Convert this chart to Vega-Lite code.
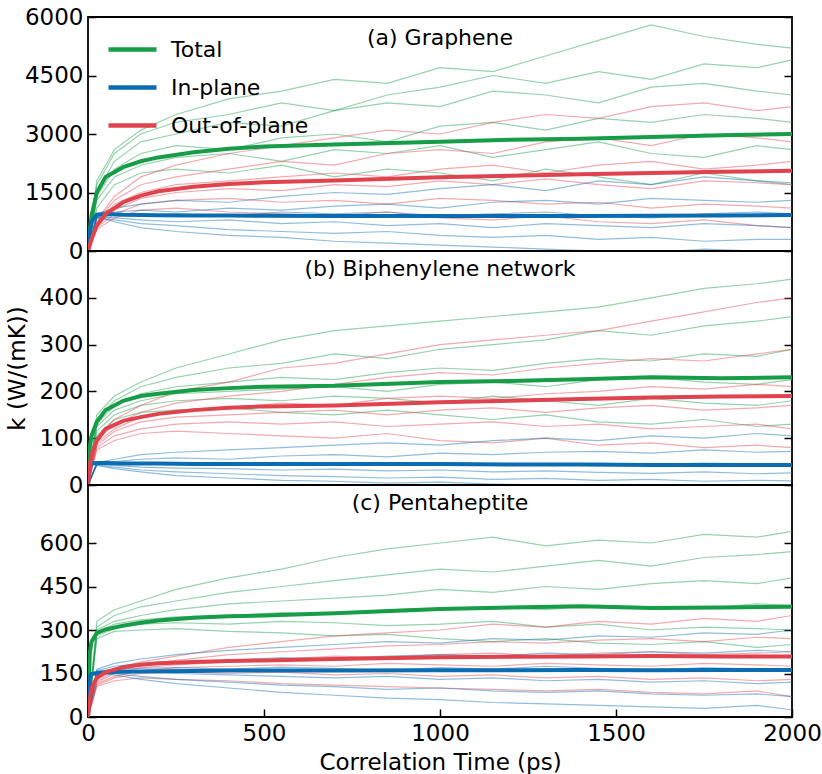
{
"$schema": "https://vega.github.io/schema/vega-lite/v6.json",
"background": "white",
"padding": {"left": 5, "top": 5, "right": 20, "bottom": 5},
"spacing": 0,
"bounds": "flush",
"resolve": {"scale": {"color": "independent"}},
"config": {
 "font": "DejaVu Sans",
 "view": {"stroke": "black", "strokeWidth": 1.8},
 "axis": {"grid": false, "domain": false, "ticks": true, "tickSize": 8, "offset": -8, "tickWidth": 1.5, "tickColor": "black", "labelFontSize": 23, "labelColor": "black", "labelFont": "DejaVu Sans", "titleFontSize": 23, "titleFont": "DejaVu Sans", "titleFontWeight": "normal", "titleColor": "black", "labelPadding": 5, "labelFlush": false, "labelOverlap": false, "labelBound": false, "format": "d"},
 "title": {"fontSize": 22, "fontWeight": "normal", "font": "DejaVu Sans", "color": "black"}
},
"datasets": {
"ta": [
{"s":"T","i":1,"t":0,"k":0},{"s":"T","i":1,"t":25,"k":1800},{"s":"T","i":1,"t":75,"k":2600},{"s":"T","i":1,"t":150,"k":3100},{"s":"T","i":1,"t":250,"k":3500},{"s":"T","i":1,"t":400,"k":3900},{"s":"T","i":1,"t":550,"k":4100},{"s":"T","i":1,"t":700,"k":4400},{"s":"T","i":1,"t":850,"k":4300},{"s":"T","i":1,"t":1000,"k":4700},{"s":"T","i":1,"t":1150,"k":4600},{"s":"T","i":1,"t":1300,"k":5000},{"s":"T","i":1,"t":1450,"k":5400},{"s":"T","i":1,"t":1600,"k":5800},{"s":"T","i":1,"t":1750,"k":5500},{"s":"T","i":1,"t":1900,"k":5300},{"s":"T","i":1,"t":2000,"k":5200},
{"s":"T","i":2,"t":0,"k":0},{"s":"T","i":2,"t":25,"k":1500},{"s":"T","i":2,"t":75,"k":2300},{"s":"T","i":2,"t":150,"k":2800},{"s":"T","i":2,"t":250,"k":3000},{"s":"T","i":2,"t":400,"k":3300},{"s":"T","i":2,"t":550,"k":3200},{"s":"T","i":2,"t":700,"k":3600},{"s":"T","i":2,"t":850,"k":3800},{"s":"T","i":2,"t":1000,"k":3700},{"s":"T","i":2,"t":1150,"k":4100},{"s":"T","i":2,"t":1300,"k":4000},{"s":"T","i":2,"t":1450,"k":3800},{"s":"T","i":2,"t":1600,"k":4200},{"s":"T","i":2,"t":1750,"k":4300},{"s":"T","i":2,"t":1900,"k":4100},{"s":"T","i":2,"t":2000,"k":4000},
{"s":"T","i":3,"t":0,"k":0},{"s":"T","i":3,"t":25,"k":1400},{"s":"T","i":3,"t":75,"k":2100},{"s":"T","i":3,"t":150,"k":2500},{"s":"T","i":3,"t":250,"k":2700},{"s":"T","i":3,"t":400,"k":2600},{"s":"T","i":3,"t":550,"k":2900},{"s":"T","i":3,"t":700,"k":3000},{"s":"T","i":3,"t":850,"k":2800},{"s":"T","i":3,"t":1000,"k":3200},{"s":"T","i":3,"t":1150,"k":3300},{"s":"T","i":3,"t":1300,"k":3100},{"s":"T","i":3,"t":1450,"k":3400},{"s":"T","i":3,"t":1600,"k":3300},{"s":"T","i":3,"t":1750,"k":3500},{"s":"T","i":3,"t":1900,"k":3400},{"s":"T","i":3,"t":2000,"k":3300},
{"s":"T","i":4,"t":0,"k":0},{"s":"T","i":4,"t":25,"k":1300},{"s":"T","i":4,"t":75,"k":1900},{"s":"T","i":4,"t":150,"k":2200},{"s":"T","i":4,"t":250,"k":2400},{"s":"T","i":4,"t":400,"k":2500},{"s":"T","i":4,"t":550,"k":2300},{"s":"T","i":4,"t":700,"k":2600},{"s":"T","i":4,"t":850,"k":2500},{"s":"T","i":4,"t":1000,"k":2700},{"s":"T","i":4,"t":1150,"k":2400},{"s":"T","i":4,"t":1300,"k":2600},{"s":"T","i":4,"t":1450,"k":2800},{"s":"T","i":4,"t":1600,"k":2500},{"s":"T","i":4,"t":1750,"k":2400},{"s":"T","i":4,"t":1900,"k":2700},{"s":"T","i":4,"t":2000,"k":2600},
{"s":"T","i":5,"t":0,"k":0},{"s":"T","i":5,"t":25,"k":1100},{"s":"T","i":5,"t":75,"k":1700},{"s":"T","i":5,"t":150,"k":2000},{"s":"T","i":5,"t":250,"k":2100},{"s":"T","i":5,"t":400,"k":2000},{"s":"T","i":5,"t":550,"k":2200},{"s":"T","i":5,"t":700,"k":1900},{"s":"T","i":5,"t":850,"k":2100},{"s":"T","i":5,"t":1000,"k":2000},{"s":"T","i":5,"t":1150,"k":1800},{"s":"T","i":5,"t":1300,"k":2100},{"s":"T","i":5,"t":1450,"k":1900},{"s":"T","i":5,"t":1600,"k":1700},{"s":"T","i":5,"t":1750,"k":2000},{"s":"T","i":5,"t":1900,"k":1800},{"s":"T","i":5,"t":2000,"k":1700},
{"s":"T","i":6,"t":0,"k":0},{"s":"T","i":6,"t":25,"k":1700},{"s":"T","i":6,"t":75,"k":2500},{"s":"T","i":6,"t":150,"k":3000},{"s":"T","i":6,"t":250,"k":3300},{"s":"T","i":6,"t":400,"k":3500},{"s":"T","i":6,"t":550,"k":3800},{"s":"T","i":6,"t":700,"k":3600},{"s":"T","i":6,"t":850,"k":4000},{"s":"T","i":6,"t":1000,"k":4200},{"s":"T","i":6,"t":1150,"k":4500},{"s":"T","i":6,"t":1300,"k":4300},{"s":"T","i":6,"t":1450,"k":4600},{"s":"T","i":6,"t":1600,"k":4400},{"s":"T","i":6,"t":1750,"k":4800},{"s":"T","i":6,"t":1900,"k":4700},{"s":"T","i":6,"t":2000,"k":4900},
{"s":"O","i":1,"t":0,"k":0},{"s":"O","i":1,"t":25,"k":800},{"s":"O","i":1,"t":75,"k":1400},{"s":"O","i":1,"t":150,"k":1900},{"s":"O","i":1,"t":250,"k":2200},{"s":"O","i":1,"t":400,"k":2500},{"s":"O","i":1,"t":550,"k":2700},{"s":"O","i":1,"t":700,"k":2900},{"s":"O","i":1,"t":850,"k":3100},{"s":"O","i":1,"t":1000,"k":3000},{"s":"O","i":1,"t":1150,"k":3300},{"s":"O","i":1,"t":1300,"k":3500},{"s":"O","i":1,"t":1450,"k":3400},{"s":"O","i":1,"t":1600,"k":3700},{"s":"O","i":1,"t":1750,"k":3800},{"s":"O","i":1,"t":1900,"k":3600},{"s":"O","i":1,"t":2000,"k":3700},
{"s":"O","i":2,"t":0,"k":0},{"s":"O","i":2,"t":25,"k":750},{"s":"O","i":2,"t":75,"k":1300},{"s":"O","i":2,"t":150,"k":1700},{"s":"O","i":2,"t":250,"k":1900},{"s":"O","i":2,"t":400,"k":2100},{"s":"O","i":2,"t":550,"k":2300},{"s":"O","i":2,"t":700,"k":2200},{"s":"O","i":2,"t":850,"k":2500},{"s":"O","i":2,"t":1000,"k":2600},{"s":"O","i":2,"t":1150,"k":2500},{"s":"O","i":2,"t":1300,"k":2800},{"s":"O","i":2,"t":1450,"k":2900},{"s":"O","i":2,"t":1600,"k":2700},{"s":"O","i":2,"t":1750,"k":3000},{"s":"O","i":2,"t":1900,"k":2900},{"s":"O","i":2,"t":2000,"k":2800},
{"s":"O","i":3,"t":0,"k":0},{"s":"O","i":3,"t":25,"k":700},{"s":"O","i":3,"t":75,"k":1200},{"s":"O","i":3,"t":150,"k":1500},{"s":"O","i":3,"t":250,"k":1700},{"s":"O","i":3,"t":400,"k":1800},{"s":"O","i":3,"t":550,"k":1900},{"s":"O","i":3,"t":700,"k":2000},{"s":"O","i":3,"t":850,"k":1900},{"s":"O","i":3,"t":1000,"k":2100},{"s":"O","i":3,"t":1150,"k":2200},{"s":"O","i":3,"t":1300,"k":2000},{"s":"O","i":3,"t":1450,"k":2200},{"s":"O","i":3,"t":1600,"k":2300},{"s":"O","i":3,"t":1750,"k":2100},{"s":"O","i":3,"t":1900,"k":2200},{"s":"O","i":3,"t":2000,"k":2300},
{"s":"O","i":4,"t":0,"k":0},{"s":"O","i":4,"t":25,"k":650},{"s":"O","i":4,"t":75,"k":1050},{"s":"O","i":4,"t":150,"k":1350},{"s":"O","i":4,"t":250,"k":1500},{"s":"O","i":4,"t":400,"k":1600},{"s":"O","i":4,"t":550,"k":1550},{"s":"O","i":4,"t":700,"k":1700},{"s":"O","i":4,"t":850,"k":1650},{"s":"O","i":4,"t":1000,"k":1800},{"s":"O","i":4,"t":1150,"k":1700},{"s":"O","i":4,"t":1300,"k":1850},{"s":"O","i":4,"t":1450,"k":1700},{"s":"O","i":4,"t":1600,"k":1600},{"s":"O","i":4,"t":1750,"k":1800},{"s":"O","i":4,"t":1900,"k":1750},{"s":"O","i":4,"t":2000,"k":1700},
{"s":"O","i":5,"t":0,"k":0},{"s":"O","i":5,"t":25,"k":600},{"s":"O","i":5,"t":75,"k":950},{"s":"O","i":5,"t":150,"k":1200},{"s":"O","i":5,"t":250,"k":1300},{"s":"O","i":5,"t":400,"k":1350},{"s":"O","i":5,"t":550,"k":1250},{"s":"O","i":5,"t":700,"k":1300},{"s":"O","i":5,"t":850,"k":1200},{"s":"O","i":5,"t":1000,"k":1350},{"s":"O","i":5,"t":1150,"k":1300},{"s":"O","i":5,"t":1300,"k":1200},{"s":"O","i":5,"t":1450,"k":1250},{"s":"O","i":5,"t":1600,"k":1100},{"s":"O","i":5,"t":1750,"k":1200},{"s":"O","i":5,"t":1900,"k":1150},{"s":"O","i":5,"t":2000,"k":1100},
{"s":"O","i":6,"t":0,"k":0},{"s":"O","i":6,"t":25,"k":550},{"s":"O","i":6,"t":75,"k":850},{"s":"O","i":6,"t":150,"k":1050},{"s":"O","i":6,"t":250,"k":1100},{"s":"O","i":6,"t":400,"k":1000},{"s":"O","i":6,"t":550,"k":950},{"s":"O","i":6,"t":700,"k":900},{"s":"O","i":6,"t":850,"k":1000},{"s":"O","i":6,"t":1000,"k":850},{"s":"O","i":6,"t":1150,"k":800},{"s":"O","i":6,"t":1300,"k":900},{"s":"O","i":6,"t":1450,"k":750},{"s":"O","i":6,"t":1600,"k":700},{"s":"O","i":6,"t":1750,"k":800},{"s":"O","i":6,"t":1900,"k":650},{"s":"O","i":6,"t":2000,"k":600},
{"s":"I","i":1,"t":0,"k":0},{"s":"I","i":1,"t":25,"k":950},{"s":"I","i":1,"t":75,"k":1100},{"s":"I","i":1,"t":150,"k":1200},{"s":"I","i":1,"t":250,"k":1300},{"s":"I","i":1,"t":400,"k":1250},{"s":"I","i":1,"t":550,"k":1400},{"s":"I","i":1,"t":700,"k":1500},{"s":"I","i":1,"t":850,"k":1450},{"s":"I","i":1,"t":1000,"k":1600},{"s":"I","i":1,"t":1150,"k":1700},{"s":"I","i":1,"t":1300,"k":1550},{"s":"I","i":1,"t":1450,"k":1800},{"s":"I","i":1,"t":1600,"k":1700},{"s":"I","i":1,"t":1750,"k":1900},{"s":"I","i":1,"t":1900,"k":1800},{"s":"I","i":1,"t":2000,"k":1750},
{"s":"I","i":2,"t":0,"k":0},{"s":"I","i":2,"t":25,"k":900},{"s":"I","i":2,"t":75,"k":1000},{"s":"I","i":2,"t":150,"k":1050},{"s":"I","i":2,"t":250,"k":1000},{"s":"I","i":2,"t":400,"k":1100},{"s":"I","i":2,"t":550,"k":1050},{"s":"I","i":2,"t":700,"k":1150},{"s":"I","i":2,"t":850,"k":1200},{"s":"I","i":2,"t":1000,"k":1100},{"s":"I","i":2,"t":1150,"k":1250},{"s":"I","i":2,"t":1300,"k":1300},{"s":"I","i":2,"t":1450,"k":1200},{"s":"I","i":2,"t":1600,"k":1350},{"s":"I","i":2,"t":1750,"k":1300},{"s":"I","i":2,"t":1900,"k":1250},{"s":"I","i":2,"t":2000,"k":1300},
{"s":"I","i":3,"t":0,"k":0},{"s":"I","i":3,"t":25,"k":900},{"s":"I","i":3,"t":75,"k":950},{"s":"I","i":3,"t":150,"k":900},{"s":"I","i":3,"t":250,"k":950},{"s":"I","i":3,"t":400,"k":900},{"s":"I","i":3,"t":550,"k":1000},{"s":"I","i":3,"t":700,"k":950},{"s":"I","i":3,"t":850,"k":1000},{"s":"I","i":3,"t":1000,"k":900},{"s":"I","i":3,"t":1150,"k":950},{"s":"I","i":3,"t":1300,"k":1000},{"s":"I","i":3,"t":1450,"k":900},{"s":"I","i":3,"t":1600,"k":850},{"s":"I","i":3,"t":1750,"k":950},{"s":"I","i":3,"t":1900,"k":1000},{"s":"I","i":3,"t":2000,"k":950},
{"s":"I","i":4,"t":0,"k":0},{"s":"I","i":4,"t":25,"k":880},{"s":"I","i":4,"t":75,"k":850},{"s":"I","i":4,"t":150,"k":800},{"s":"I","i":4,"t":250,"k":750},{"s":"I","i":4,"t":400,"k":800},{"s":"I","i":4,"t":550,"k":700},{"s":"I","i":4,"t":700,"k":750},{"s":"I","i":4,"t":850,"k":650},{"s":"I","i":4,"t":1000,"k":700},{"s":"I","i":4,"t":1150,"k":600},{"s":"I","i":4,"t":1300,"k":700},{"s":"I","i":4,"t":1450,"k":650},{"s":"I","i":4,"t":1600,"k":600},{"s":"I","i":4,"t":1750,"k":700},{"s":"I","i":4,"t":1900,"k":650},{"s":"I","i":4,"t":2000,"k":600},
{"s":"I","i":5,"t":0,"k":0},{"s":"I","i":5,"t":25,"k":850},{"s":"I","i":5,"t":75,"k":800},{"s":"I","i":5,"t":150,"k":700},{"s":"I","i":5,"t":250,"k":650},{"s":"I","i":5,"t":400,"k":550},{"s":"I","i":5,"t":550,"k":500},{"s":"I","i":5,"t":700,"k":450},{"s":"I","i":5,"t":850,"k":500},{"s":"I","i":5,"t":1000,"k":400},{"s":"I","i":5,"t":1150,"k":350},{"s":"I","i":5,"t":1300,"k":400},{"s":"I","i":5,"t":1450,"k":300},{"s":"I","i":5,"t":1600,"k":350},{"s":"I","i":5,"t":1750,"k":250},{"s":"I","i":5,"t":1900,"k":300},{"s":"I","i":5,"t":2000,"k":300},
{"s":"I","i":6,"t":0,"k":0},{"s":"I","i":6,"t":25,"k":870},{"s":"I","i":6,"t":75,"k":750},{"s":"I","i":6,"t":150,"k":600},{"s":"I","i":6,"t":250,"k":500},{"s":"I","i":6,"t":400,"k":400},{"s":"I","i":6,"t":550,"k":350},{"s":"I","i":6,"t":700,"k":250},{"s":"I","i":6,"t":850,"k":200},{"s":"I","i":6,"t":1000,"k":150},{"s":"I","i":6,"t":1150,"k":100},{"s":"I","i":6,"t":1300,"k":50},{"s":"I","i":6,"t":1450,"k":0},{"s":"I","i":6,"t":1600,"k":-50},{"s":"I","i":6,"t":1750,"k":50},{"s":"I","i":6,"t":1900,"k":0},{"s":"I","i":6,"t":2000,"k":-100}
],
"tb": [
{"s":"T","i":1,"t":0,"k":0},{"s":"T","i":1,"t":25,"k":150},{"s":"T","i":1,"t":75,"k":190},{"s":"T","i":1,"t":150,"k":220},{"s":"T","i":1,"t":250,"k":250},{"s":"T","i":1,"t":400,"k":280},{"s":"T","i":1,"t":550,"k":310},{"s":"T","i":1,"t":700,"k":330},{"s":"T","i":1,"t":850,"k":340},{"s":"T","i":1,"t":1000,"k":350},{"s":"T","i":1,"t":1150,"k":360},{"s":"T","i":1,"t":1300,"k":370},{"s":"T","i":1,"t":1450,"k":380},{"s":"T","i":1,"t":1600,"k":400},{"s":"T","i":1,"t":1750,"k":420},{"s":"T","i":1,"t":1900,"k":430},{"s":"T","i":1,"t":2000,"k":440},
{"s":"T","i":2,"t":0,"k":0},{"s":"T","i":2,"t":25,"k":140},{"s":"T","i":2,"t":75,"k":180},{"s":"T","i":2,"t":150,"k":210},{"s":"T","i":2,"t":250,"k":230},{"s":"T","i":2,"t":400,"k":250},{"s":"T","i":2,"t":550,"k":260},{"s":"T","i":2,"t":700,"k":280},{"s":"T","i":2,"t":850,"k":270},{"s":"T","i":2,"t":1000,"k":290},{"s":"T","i":2,"t":1150,"k":300},{"s":"T","i":2,"t":1300,"k":310},{"s":"T","i":2,"t":1450,"k":330},{"s":"T","i":2,"t":1600,"k":320},{"s":"T","i":2,"t":1750,"k":340},{"s":"T","i":2,"t":1900,"k":350},{"s":"T","i":2,"t":2000,"k":360},
{"s":"T","i":3,"t":0,"k":0},{"s":"T","i":3,"t":25,"k":130},{"s":"T","i":3,"t":75,"k":170},{"s":"T","i":3,"t":150,"k":195},{"s":"T","i":3,"t":250,"k":210},{"s":"T","i":3,"t":400,"k":220},{"s":"T","i":3,"t":550,"k":230},{"s":"T","i":3,"t":700,"k":225},{"s":"T","i":3,"t":850,"k":240},{"s":"T","i":3,"t":1000,"k":250},{"s":"T","i":3,"t":1150,"k":245},{"s":"T","i":3,"t":1300,"k":260},{"s":"T","i":3,"t":1450,"k":270},{"s":"T","i":3,"t":1600,"k":265},{"s":"T","i":3,"t":1750,"k":280},{"s":"T","i":3,"t":1900,"k":275},{"s":"T","i":3,"t":2000,"k":290},
{"s":"T","i":4,"t":0,"k":0},{"s":"T","i":4,"t":25,"k":125},{"s":"T","i":4,"t":75,"k":160},{"s":"T","i":4,"t":150,"k":180},{"s":"T","i":4,"t":250,"k":195},{"s":"T","i":4,"t":400,"k":200},{"s":"T","i":4,"t":550,"k":205},{"s":"T","i":4,"t":700,"k":210},{"s":"T","i":4,"t":850,"k":200},{"s":"T","i":4,"t":1000,"k":215},{"s":"T","i":4,"t":1150,"k":220},{"s":"T","i":4,"t":1300,"k":210},{"s":"T","i":4,"t":1450,"k":225},{"s":"T","i":4,"t":1600,"k":230},{"s":"T","i":4,"t":1750,"k":220},{"s":"T","i":4,"t":1900,"k":215},{"s":"T","i":4,"t":2000,"k":225},
{"s":"T","i":5,"t":0,"k":0},{"s":"T","i":5,"t":25,"k":115},{"s":"T","i":5,"t":75,"k":150},{"s":"T","i":5,"t":150,"k":170},{"s":"T","i":5,"t":250,"k":180},{"s":"T","i":5,"t":400,"k":185},{"s":"T","i":5,"t":550,"k":180},{"s":"T","i":5,"t":700,"k":190},{"s":"T","i":5,"t":850,"k":185},{"s":"T","i":5,"t":1000,"k":175},{"s":"T","i":5,"t":1150,"k":190},{"s":"T","i":5,"t":1300,"k":180},{"s":"T","i":5,"t":1450,"k":170},{"s":"T","i":5,"t":1600,"k":185},{"s":"T","i":5,"t":1750,"k":175},{"s":"T","i":5,"t":1900,"k":170},{"s":"T","i":5,"t":2000,"k":180},
{"s":"T","i":6,"t":0,"k":0},{"s":"T","i":6,"t":25,"k":105},{"s":"T","i":6,"t":75,"k":140},{"s":"T","i":6,"t":150,"k":155},{"s":"T","i":6,"t":250,"k":160},{"s":"T","i":6,"t":400,"k":165},{"s":"T","i":6,"t":550,"k":155},{"s":"T","i":6,"t":700,"k":150},{"s":"T","i":6,"t":850,"k":160},{"s":"T","i":6,"t":1000,"k":150},{"s":"T","i":6,"t":1150,"k":140},{"s":"T","i":6,"t":1300,"k":150},{"s":"T","i":6,"t":1450,"k":135},{"s":"T","i":6,"t":1600,"k":130},{"s":"T","i":6,"t":1750,"k":140},{"s":"T","i":6,"t":1900,"k":125},{"s":"T","i":6,"t":2000,"k":130},
{"s":"O","i":1,"t":0,"k":0},{"s":"O","i":1,"t":25,"k":100},{"s":"O","i":1,"t":75,"k":140},{"s":"O","i":1,"t":150,"k":170},{"s":"O","i":1,"t":250,"k":200},{"s":"O","i":1,"t":400,"k":220},{"s":"O","i":1,"t":550,"k":250},{"s":"O","i":1,"t":700,"k":260},{"s":"O","i":1,"t":850,"k":280},{"s":"O","i":1,"t":1000,"k":300},{"s":"O","i":1,"t":1150,"k":310},{"s":"O","i":1,"t":1300,"k":320},{"s":"O","i":1,"t":1450,"k":330},{"s":"O","i":1,"t":1600,"k":350},{"s":"O","i":1,"t":1750,"k":370},{"s":"O","i":1,"t":1900,"k":390},{"s":"O","i":1,"t":2000,"k":400},
{"s":"O","i":2,"t":0,"k":0},{"s":"O","i":2,"t":25,"k":95},{"s":"O","i":2,"t":75,"k":130},{"s":"O","i":2,"t":150,"k":155},{"s":"O","i":2,"t":250,"k":175},{"s":"O","i":2,"t":400,"k":190},{"s":"O","i":2,"t":550,"k":200},{"s":"O","i":2,"t":700,"k":215},{"s":"O","i":2,"t":850,"k":230},{"s":"O","i":2,"t":1000,"k":240},{"s":"O","i":2,"t":1150,"k":235},{"s":"O","i":2,"t":1300,"k":250},{"s":"O","i":2,"t":1450,"k":260},{"s":"O","i":2,"t":1600,"k":270},{"s":"O","i":2,"t":1750,"k":265},{"s":"O","i":2,"t":1900,"k":280},{"s":"O","i":2,"t":2000,"k":290},
{"s":"O","i":3,"t":0,"k":0},{"s":"O","i":3,"t":25,"k":90},{"s":"O","i":3,"t":75,"k":120},{"s":"O","i":3,"t":150,"k":145},{"s":"O","i":3,"t":250,"k":160},{"s":"O","i":3,"t":400,"k":165},{"s":"O","i":3,"t":550,"k":175},{"s":"O","i":3,"t":700,"k":170},{"s":"O","i":3,"t":850,"k":185},{"s":"O","i":3,"t":1000,"k":190},{"s":"O","i":3,"t":1150,"k":185},{"s":"O","i":3,"t":1300,"k":195},{"s":"O","i":3,"t":1450,"k":200},{"s":"O","i":3,"t":1600,"k":210},{"s":"O","i":3,"t":1750,"k":205},{"s":"O","i":3,"t":1900,"k":215},{"s":"O","i":3,"t":2000,"k":210},
{"s":"O","i":4,"t":0,"k":0},{"s":"O","i":4,"t":25,"k":85},{"s":"O","i":4,"t":75,"k":115},{"s":"O","i":4,"t":150,"k":135},{"s":"O","i":4,"t":250,"k":145},{"s":"O","i":4,"t":400,"k":150},{"s":"O","i":4,"t":550,"k":155},{"s":"O","i":4,"t":700,"k":160},{"s":"O","i":4,"t":850,"k":150},{"s":"O","i":4,"t":1000,"k":160},{"s":"O","i":4,"t":1150,"k":165},{"s":"O","i":4,"t":1300,"k":155},{"s":"O","i":4,"t":1450,"k":165},{"s":"O","i":4,"t":1600,"k":170},{"s":"O","i":4,"t":1750,"k":160},{"s":"O","i":4,"t":1900,"k":165},{"s":"O","i":4,"t":2000,"k":170},
{"s":"O","i":5,"t":0,"k":0},{"s":"O","i":5,"t":25,"k":80},{"s":"O","i":5,"t":75,"k":105},{"s":"O","i":5,"t":150,"k":120},{"s":"O","i":5,"t":250,"k":130},{"s":"O","i":5,"t":400,"k":135},{"s":"O","i":5,"t":550,"k":130},{"s":"O","i":5,"t":700,"k":135},{"s":"O","i":5,"t":850,"k":125},{"s":"O","i":5,"t":1000,"k":130},{"s":"O","i":5,"t":1150,"k":135},{"s":"O","i":5,"t":1300,"k":125},{"s":"O","i":5,"t":1450,"k":130},{"s":"O","i":5,"t":1600,"k":120},{"s":"O","i":5,"t":1750,"k":125},{"s":"O","i":5,"t":1900,"k":130},{"s":"O","i":5,"t":2000,"k":120},
{"s":"O","i":6,"t":0,"k":0},{"s":"O","i":6,"t":25,"k":75},{"s":"O","i":6,"t":75,"k":95},{"s":"O","i":6,"t":150,"k":110},{"s":"O","i":6,"t":250,"k":115},{"s":"O","i":6,"t":400,"k":110},{"s":"O","i":6,"t":550,"k":105},{"s":"O","i":6,"t":700,"k":100},{"s":"O","i":6,"t":850,"k":110},{"s":"O","i":6,"t":1000,"k":95},{"s":"O","i":6,"t":1150,"k":90},{"s":"O","i":6,"t":1300,"k":100},{"s":"O","i":6,"t":1450,"k":85},{"s":"O","i":6,"t":1600,"k":90},{"s":"O","i":6,"t":1750,"k":80},{"s":"O","i":6,"t":1900,"k":85},{"s":"O","i":6,"t":2000,"k":80},
{"s":"I","i":1,"t":0,"k":0},{"s":"I","i":1,"t":25,"k":48},{"s":"I","i":1,"t":75,"k":55},{"s":"I","i":1,"t":150,"k":65},{"s":"I","i":1,"t":250,"k":70},{"s":"I","i":1,"t":400,"k":75},{"s":"I","i":1,"t":550,"k":80},{"s":"I","i":1,"t":700,"k":85},{"s":"I","i":1,"t":850,"k":90},{"s":"I","i":1,"t":1000,"k":85},{"s":"I","i":1,"t":1150,"k":95},{"s":"I","i":1,"t":1300,"k":100},{"s":"I","i":1,"t":1450,"k":95},{"s":"I","i":1,"t":1600,"k":105},{"s":"I","i":1,"t":1750,"k":100},{"s":"I","i":1,"t":1900,"k":110},{"s":"I","i":1,"t":2000,"k":105},
{"s":"I","i":2,"t":0,"k":0},{"s":"I","i":2,"t":25,"k":46},{"s":"I","i":2,"t":75,"k":50},{"s":"I","i":2,"t":150,"k":55},{"s":"I","i":2,"t":250,"k":58},{"s":"I","i":2,"t":400,"k":55},{"s":"I","i":2,"t":550,"k":62},{"s":"I","i":2,"t":700,"k":65},{"s":"I","i":2,"t":850,"k":60},{"s":"I","i":2,"t":1000,"k":68},{"s":"I","i":2,"t":1150,"k":65},{"s":"I","i":2,"t":1300,"k":70},{"s":"I","i":2,"t":1450,"k":72},{"s":"I","i":2,"t":1600,"k":68},{"s":"I","i":2,"t":1750,"k":75},{"s":"I","i":2,"t":1900,"k":70},{"s":"I","i":2,"t":2000,"k":72},
{"s":"I","i":3,"t":0,"k":0},{"s":"I","i":3,"t":25,"k":45},{"s":"I","i":3,"t":75,"k":46},{"s":"I","i":3,"t":150,"k":44},{"s":"I","i":3,"t":250,"k":48},{"s":"I","i":3,"t":400,"k":45},{"s":"I","i":3,"t":550,"k":47},{"s":"I","i":3,"t":700,"k":44},{"s":"I","i":3,"t":850,"k":46},{"s":"I","i":3,"t":1000,"k":48},{"s":"I","i":3,"t":1150,"k":45},{"s":"I","i":3,"t":1300,"k":43},{"s":"I","i":3,"t":1450,"k":46},{"s":"I","i":3,"t":1600,"k":44},{"s":"I","i":3,"t":1750,"k":47},{"s":"I","i":3,"t":1900,"k":45},{"s":"I","i":3,"t":2000,"k":44},
{"s":"I","i":4,"t":0,"k":0},{"s":"I","i":4,"t":25,"k":44},{"s":"I","i":4,"t":75,"k":42},{"s":"I","i":4,"t":150,"k":38},{"s":"I","i":4,"t":250,"k":36},{"s":"I","i":4,"t":400,"k":35},{"s":"I","i":4,"t":550,"k":32},{"s":"I","i":4,"t":700,"k":34},{"s":"I","i":4,"t":850,"k":30},{"s":"I","i":4,"t":1000,"k":32},{"s":"I","i":4,"t":1150,"k":28},{"s":"I","i":4,"t":1300,"k":30},{"s":"I","i":4,"t":1450,"k":27},{"s":"I","i":4,"t":1600,"k":25},{"s":"I","i":4,"t":1750,"k":28},{"s":"I","i":4,"t":1900,"k":24},{"s":"I","i":4,"t":2000,"k":26},
{"s":"I","i":5,"t":0,"k":0},{"s":"I","i":5,"t":25,"k":43},{"s":"I","i":5,"t":75,"k":38},{"s":"I","i":5,"t":150,"k":32},{"s":"I","i":5,"t":250,"k":28},{"s":"I","i":5,"t":400,"k":24},{"s":"I","i":5,"t":550,"k":20},{"s":"I","i":5,"t":700,"k":18},{"s":"I","i":5,"t":850,"k":15},{"s":"I","i":5,"t":1000,"k":17},{"s":"I","i":5,"t":1150,"k":12},{"s":"I","i":5,"t":1300,"k":14},{"s":"I","i":5,"t":1450,"k":10},{"s":"I","i":5,"t":1600,"k":12},{"s":"I","i":5,"t":1750,"k":8},{"s":"I","i":5,"t":1900,"k":10},{"s":"I","i":5,"t":2000,"k":9},
{"s":"I","i":6,"t":0,"k":0},{"s":"I","i":6,"t":25,"k":42},{"s":"I","i":6,"t":75,"k":35},{"s":"I","i":6,"t":150,"k":28},{"s":"I","i":6,"t":250,"k":20},{"s":"I","i":6,"t":400,"k":15},{"s":"I","i":6,"t":550,"k":10},{"s":"I","i":6,"t":700,"k":8},{"s":"I","i":6,"t":850,"k":4},{"s":"I","i":6,"t":1000,"k":6},{"s":"I","i":6,"t":1150,"k":2},{"s":"I","i":6,"t":1300,"k":0},{"s":"I","i":6,"t":1450,"k":-5},{"s":"I","i":6,"t":1600,"k":-2},{"s":"I","i":6,"t":1750,"k":-8},{"s":"I","i":6,"t":1900,"k":-4},{"s":"I","i":6,"t":2000,"k":-6}
],
"tc": [
{"s":"T","i":1,"t":0,"k":0},{"s":"T","i":1,"t":25,"k":330},{"s":"T","i":1,"t":75,"k":370},{"s":"T","i":1,"t":150,"k":400},{"s":"T","i":1,"t":250,"k":440},{"s":"T","i":1,"t":400,"k":480},{"s":"T","i":1,"t":550,"k":510},{"s":"T","i":1,"t":700,"k":550},{"s":"T","i":1,"t":850,"k":580},{"s":"T","i":1,"t":1000,"k":600},{"s":"T","i":1,"t":1150,"k":620},{"s":"T","i":1,"t":1300,"k":590},{"s":"T","i":1,"t":1450,"k":610},{"s":"T","i":1,"t":1600,"k":600},{"s":"T","i":1,"t":1750,"k":630},{"s":"T","i":1,"t":1900,"k":620},{"s":"T","i":1,"t":2000,"k":640},
{"s":"T","i":2,"t":0,"k":0},{"s":"T","i":2,"t":25,"k":310},{"s":"T","i":2,"t":75,"k":350},{"s":"T","i":2,"t":150,"k":380},{"s":"T","i":2,"t":250,"k":400},{"s":"T","i":2,"t":400,"k":430},{"s":"T","i":2,"t":550,"k":450},{"s":"T","i":2,"t":700,"k":470},{"s":"T","i":2,"t":850,"k":490},{"s":"T","i":2,"t":1000,"k":510},{"s":"T","i":2,"t":1150,"k":500},{"s":"T","i":2,"t":1300,"k":520},{"s":"T","i":2,"t":1450,"k":540},{"s":"T","i":2,"t":1600,"k":520},{"s":"T","i":2,"t":1750,"k":550},{"s":"T","i":2,"t":1900,"k":560},{"s":"T","i":2,"t":2000,"k":570},
{"s":"T","i":3,"t":0,"k":0},{"s":"T","i":3,"t":25,"k":300},{"s":"T","i":3,"t":75,"k":330},{"s":"T","i":3,"t":150,"k":350},{"s":"T","i":3,"t":250,"k":370},{"s":"T","i":3,"t":400,"k":390},{"s":"T","i":3,"t":550,"k":400},{"s":"T","i":3,"t":700,"k":410},{"s":"T","i":3,"t":850,"k":420},{"s":"T","i":3,"t":1000,"k":440},{"s":"T","i":3,"t":1150,"k":430},{"s":"T","i":3,"t":1300,"k":450},{"s":"T","i":3,"t":1450,"k":440},{"s":"T","i":3,"t":1600,"k":460},{"s":"T","i":3,"t":1750,"k":470},{"s":"T","i":3,"t":1900,"k":460},{"s":"T","i":3,"t":2000,"k":480},
{"s":"T","i":4,"t":0,"k":0},{"s":"T","i":4,"t":25,"k":290},{"s":"T","i":4,"t":75,"k":320},{"s":"T","i":4,"t":150,"k":335},{"s":"T","i":4,"t":250,"k":345},{"s":"T","i":4,"t":400,"k":350},{"s":"T","i":4,"t":550,"k":360},{"s":"T","i":4,"t":700,"k":355},{"s":"T","i":4,"t":850,"k":370},{"s":"T","i":4,"t":1000,"k":375},{"s":"T","i":4,"t":1150,"k":380},{"s":"T","i":4,"t":1300,"k":370},{"s":"T","i":4,"t":1450,"k":385},{"s":"T","i":4,"t":1600,"k":380},{"s":"T","i":4,"t":1750,"k":375},{"s":"T","i":4,"t":1900,"k":390},{"s":"T","i":4,"t":2000,"k":385},
{"s":"T","i":5,"t":0,"k":0},{"s":"T","i":5,"t":25,"k":280},{"s":"T","i":5,"t":75,"k":305},{"s":"T","i":5,"t":150,"k":320},{"s":"T","i":5,"t":250,"k":325},{"s":"T","i":5,"t":400,"k":320},{"s":"T","i":5,"t":550,"k":330},{"s":"T","i":5,"t":700,"k":325},{"s":"T","i":5,"t":850,"k":315},{"s":"T","i":5,"t":1000,"k":320},{"s":"T","i":5,"t":1150,"k":330},{"s":"T","i":5,"t":1300,"k":310},{"s":"T","i":5,"t":1450,"k":320},{"s":"T","i":5,"t":1600,"k":300},{"s":"T","i":5,"t":1750,"k":310},{"s":"T","i":5,"t":1900,"k":305},{"s":"T","i":5,"t":2000,"k":300},
{"s":"T","i":6,"t":0,"k":0},{"s":"T","i":6,"t":25,"k":270},{"s":"T","i":6,"t":75,"k":295},{"s":"T","i":6,"t":150,"k":300},{"s":"T","i":6,"t":250,"k":305},{"s":"T","i":6,"t":400,"k":295},{"s":"T","i":6,"t":550,"k":290},{"s":"T","i":6,"t":700,"k":280},{"s":"T","i":6,"t":850,"k":285},{"s":"T","i":6,"t":1000,"k":270},{"s":"T","i":6,"t":1150,"k":260},{"s":"T","i":6,"t":1300,"k":270},{"s":"T","i":6,"t":1450,"k":255},{"s":"T","i":6,"t":1600,"k":250},{"s":"T","i":6,"t":1750,"k":260},{"s":"T","i":6,"t":1900,"k":240},{"s":"T","i":6,"t":2000,"k":250},
{"s":"O","i":1,"t":0,"k":0},{"s":"O","i":1,"t":25,"k":130},{"s":"O","i":1,"t":75,"k":165},{"s":"O","i":1,"t":150,"k":190},{"s":"O","i":1,"t":250,"k":210},{"s":"O","i":1,"t":400,"k":240},{"s":"O","i":1,"t":550,"k":260},{"s":"O","i":1,"t":700,"k":280},{"s":"O","i":1,"t":850,"k":290},{"s":"O","i":1,"t":1000,"k":300},{"s":"O","i":1,"t":1150,"k":320},{"s":"O","i":1,"t":1300,"k":310},{"s":"O","i":1,"t":1450,"k":330},{"s":"O","i":1,"t":1600,"k":320},{"s":"O","i":1,"t":1750,"k":340},{"s":"O","i":1,"t":1900,"k":330},{"s":"O","i":1,"t":2000,"k":350},
{"s":"O","i":2,"t":0,"k":0},{"s":"O","i":2,"t":25,"k":125},{"s":"O","i":2,"t":75,"k":155},{"s":"O","i":2,"t":150,"k":180},{"s":"O","i":2,"t":250,"k":195},{"s":"O","i":2,"t":400,"k":215},{"s":"O","i":2,"t":550,"k":225},{"s":"O","i":2,"t":700,"k":235},{"s":"O","i":2,"t":850,"k":245},{"s":"O","i":2,"t":1000,"k":250},{"s":"O","i":2,"t":1150,"k":260},{"s":"O","i":2,"t":1300,"k":255},{"s":"O","i":2,"t":1450,"k":265},{"s":"O","i":2,"t":1600,"k":270},{"s":"O","i":2,"t":1750,"k":260},{"s":"O","i":2,"t":1900,"k":275},{"s":"O","i":2,"t":2000,"k":270},
{"s":"O","i":3,"t":0,"k":0},{"s":"O","i":3,"t":25,"k":120},{"s":"O","i":3,"t":75,"k":150},{"s":"O","i":3,"t":150,"k":170},{"s":"O","i":3,"t":250,"k":180},{"s":"O","i":3,"t":400,"k":190},{"s":"O","i":3,"t":550,"k":200},{"s":"O","i":3,"t":700,"k":210},{"s":"O","i":3,"t":850,"k":205},{"s":"O","i":3,"t":1000,"k":215},{"s":"O","i":3,"t":1150,"k":220},{"s":"O","i":3,"t":1300,"k":210},{"s":"O","i":3,"t":1450,"k":220},{"s":"O","i":3,"t":1600,"k":225},{"s":"O","i":3,"t":1750,"k":215},{"s":"O","i":3,"t":1900,"k":220},{"s":"O","i":3,"t":2000,"k":225},
{"s":"O","i":4,"t":0,"k":0},{"s":"O","i":4,"t":25,"k":115},{"s":"O","i":4,"t":75,"k":140},{"s":"O","i":4,"t":150,"k":160},{"s":"O","i":4,"t":250,"k":170},{"s":"O","i":4,"t":400,"k":175},{"s":"O","i":4,"t":550,"k":180},{"s":"O","i":4,"t":700,"k":175},{"s":"O","i":4,"t":850,"k":185},{"s":"O","i":4,"t":1000,"k":180},{"s":"O","i":4,"t":1150,"k":175},{"s":"O","i":4,"t":1300,"k":185},{"s":"O","i":4,"t":1450,"k":180},{"s":"O","i":4,"t":1600,"k":175},{"s":"O","i":4,"t":1750,"k":185},{"s":"O","i":4,"t":1900,"k":180},{"s":"O","i":4,"t":2000,"k":175},
{"s":"O","i":5,"t":0,"k":0},{"s":"O","i":5,"t":25,"k":110},{"s":"O","i":5,"t":75,"k":135},{"s":"O","i":5,"t":150,"k":150},{"s":"O","i":5,"t":250,"k":155},{"s":"O","i":5,"t":400,"k":150},{"s":"O","i":5,"t":550,"k":155},{"s":"O","i":5,"t":700,"k":145},{"s":"O","i":5,"t":850,"k":150},{"s":"O","i":5,"t":1000,"k":140},{"s":"O","i":5,"t":1150,"k":145},{"s":"O","i":5,"t":1300,"k":135},{"s":"O","i":5,"t":1450,"k":140},{"s":"O","i":5,"t":1600,"k":130},{"s":"O","i":5,"t":1750,"k":135},{"s":"O","i":5,"t":1900,"k":125},{"s":"O","i":5,"t":2000,"k":130},
{"s":"O","i":6,"t":0,"k":0},{"s":"O","i":6,"t":25,"k":105},{"s":"O","i":6,"t":75,"k":125},{"s":"O","i":6,"t":150,"k":135},{"s":"O","i":6,"t":250,"k":130},{"s":"O","i":6,"t":400,"k":125},{"s":"O","i":6,"t":550,"k":115},{"s":"O","i":6,"t":700,"k":110},{"s":"O","i":6,"t":850,"k":105},{"s":"O","i":6,"t":1000,"k":100},{"s":"O","i":6,"t":1150,"k":95},{"s":"O","i":6,"t":1300,"k":90},{"s":"O","i":6,"t":1450,"k":95},{"s":"O","i":6,"t":1600,"k":85},{"s":"O","i":6,"t":1750,"k":80},{"s":"O","i":6,"t":1900,"k":90},{"s":"O","i":6,"t":2000,"k":70},
{"s":"I","i":1,"t":0,"k":0},{"s":"I","i":1,"t":25,"k":165},{"s":"I","i":1,"t":75,"k":185},{"s":"I","i":1,"t":150,"k":200},{"s":"I","i":1,"t":250,"k":215},{"s":"I","i":1,"t":400,"k":230},{"s":"I","i":1,"t":550,"k":240},{"s":"I","i":1,"t":700,"k":250},{"s":"I","i":1,"t":850,"k":260},{"s":"I","i":1,"t":1000,"k":255},{"s":"I","i":1,"t":1150,"k":270},{"s":"I","i":1,"t":1300,"k":265},{"s":"I","i":1,"t":1450,"k":280},{"s":"I","i":1,"t":1600,"k":275},{"s":"I","i":1,"t":1750,"k":290},{"s":"I","i":1,"t":1900,"k":285},{"s":"I","i":1,"t":2000,"k":300},
{"s":"I","i":2,"t":0,"k":0},{"s":"I","i":2,"t":25,"k":160},{"s":"I","i":2,"t":75,"k":175},{"s":"I","i":2,"t":150,"k":185},{"s":"I","i":2,"t":250,"k":190},{"s":"I","i":2,"t":400,"k":195},{"s":"I","i":2,"t":550,"k":205},{"s":"I","i":2,"t":700,"k":200},{"s":"I","i":2,"t":850,"k":210},{"s":"I","i":2,"t":1000,"k":215},{"s":"I","i":2,"t":1150,"k":210},{"s":"I","i":2,"t":1300,"k":220},{"s":"I","i":2,"t":1450,"k":215},{"s":"I","i":2,"t":1600,"k":225},{"s":"I","i":2,"t":1750,"k":220},{"s":"I","i":2,"t":1900,"k":230},{"s":"I","i":2,"t":2000,"k":225},
{"s":"I","i":3,"t":0,"k":0},{"s":"I","i":3,"t":25,"k":157},{"s":"I","i":3,"t":75,"k":165},{"s":"I","i":3,"t":150,"k":168},{"s":"I","i":3,"t":250,"k":170},{"s":"I","i":3,"t":400,"k":165},{"s":"I","i":3,"t":550,"k":172},{"s":"I","i":3,"t":700,"k":168},{"s":"I","i":3,"t":850,"k":160},{"s":"I","i":3,"t":1000,"k":170},{"s":"I","i":3,"t":1150,"k":165},{"s":"I","i":3,"t":1300,"k":175},{"s":"I","i":3,"t":1450,"k":168},{"s":"I","i":3,"t":1600,"k":160},{"s":"I","i":3,"t":1750,"k":170},{"s":"I","i":3,"t":1900,"k":165},{"s":"I","i":3,"t":2000,"k":168},
{"s":"I","i":4,"t":0,"k":0},{"s":"I","i":4,"t":25,"k":155},{"s":"I","i":4,"t":75,"k":160},{"s":"I","i":4,"t":150,"k":155},{"s":"I","i":4,"t":250,"k":150},{"s":"I","i":4,"t":400,"k":145},{"s":"I","i":4,"t":550,"k":140},{"s":"I","i":4,"t":700,"k":135},{"s":"I","i":4,"t":850,"k":140},{"s":"I","i":4,"t":1000,"k":130},{"s":"I","i":4,"t":1150,"k":135},{"s":"I","i":4,"t":1300,"k":125},{"s":"I","i":4,"t":1450,"k":130},{"s":"I","i":4,"t":1600,"k":120},{"s":"I","i":4,"t":1750,"k":125},{"s":"I","i":4,"t":1900,"k":115},{"s":"I","i":4,"t":2000,"k":120},
{"s":"I","i":5,"t":0,"k":0},{"s":"I","i":5,"t":25,"k":152},{"s":"I","i":5,"t":75,"k":150},{"s":"I","i":5,"t":150,"k":140},{"s":"I","i":5,"t":250,"k":130},{"s":"I","i":5,"t":400,"k":120},{"s":"I","i":5,"t":550,"k":110},{"s":"I","i":5,"t":700,"k":105},{"s":"I","i":5,"t":850,"k":95},{"s":"I","i":5,"t":1000,"k":100},{"s":"I","i":5,"t":1150,"k":90},{"s":"I","i":5,"t":1300,"k":85},{"s":"I","i":5,"t":1450,"k":90},{"s":"I","i":5,"t":1600,"k":80},{"s":"I","i":5,"t":1750,"k":75},{"s":"I","i":5,"t":1900,"k":80},{"s":"I","i":5,"t":2000,"k":70},
{"s":"I","i":6,"t":0,"k":0},{"s":"I","i":6,"t":25,"k":150},{"s":"I","i":6,"t":75,"k":145},{"s":"I","i":6,"t":150,"k":130},{"s":"I","i":6,"t":250,"k":115},{"s":"I","i":6,"t":400,"k":100},{"s":"I","i":6,"t":550,"k":85},{"s":"I","i":6,"t":700,"k":75},{"s":"I","i":6,"t":850,"k":65},{"s":"I","i":6,"t":1000,"k":60},{"s":"I","i":6,"t":1150,"k":50},{"s":"I","i":6,"t":1300,"k":45},{"s":"I","i":6,"t":1450,"k":40},{"s":"I","i":6,"t":1600,"k":35},{"s":"I","i":6,"t":1750,"k":30},{"s":"I","i":6,"t":1900,"k":40},{"s":"I","i":6,"t":2000,"k":25}
],
"ma": [
{"s":"T","t":0,"k":0},{"s":"T","t":5,"k":500},{"s":"T","t":10,"k":900},{"s":"T","t":25,"k":1500},{"s":"T","t":50,"k":1900},{"s":"T","t":100,"k":2150},{"s":"T","t":150,"k":2300},{"s":"T","t":200,"k":2400},{"s":"T","t":300,"k":2530},{"s":"T","t":400,"k":2620},{"s":"T","t":500,"k":2680},{"s":"T","t":700,"k":2730},{"s":"T","t":1000,"k":2800},{"s":"T","t":1200,"k":2850},{"s":"T","t":1400,"k":2880},{"s":"T","t":1600,"k":2920},{"s":"T","t":1800,"k":2970},{"s":"T","t":2000,"k":3000},
{"s":"I","t":0,"k":0},{"s":"I","t":5,"k":500},{"s":"I","t":10,"k":750},{"s":"I","t":25,"k":930},{"s":"I","t":50,"k":950},{"s":"I","t":100,"k":930},{"s":"I","t":150,"k":920},{"s":"I","t":200,"k":915},{"s":"I","t":300,"k":910},{"s":"I","t":400,"k":910},{"s":"I","t":500,"k":905},{"s":"I","t":700,"k":900},{"s":"I","t":1000,"k":895},{"s":"I","t":1200,"k":895},{"s":"I","t":1400,"k":900},{"s":"I","t":1600,"k":905},{"s":"I","t":1800,"k":910},{"s":"I","t":2000,"k":920},
{"s":"O","t":0,"k":0},{"s":"O","t":5,"k":150},{"s":"O","t":10,"k":300},{"s":"O","t":25,"k":650},{"s":"O","t":50,"k":950},{"s":"O","t":100,"k":1250},{"s":"O","t":150,"k":1420},{"s":"O","t":200,"k":1530},{"s":"O","t":300,"k":1650},{"s":"O","t":400,"k":1720},{"s":"O","t":500,"k":1760},{"s":"O","t":700,"k":1810},{"s":"O","t":1000,"k":1890},{"s":"O","t":1200,"k":1930},{"s":"O","t":1400,"k":1970},{"s":"O","t":1600,"k":2000},{"s":"O","t":1800,"k":2030},{"s":"O","t":2000,"k":2060}
],
"mb": [
{"s":"T","t":0,"k":0},{"s":"T","t":5,"k":80},{"s":"T","t":10,"k":105},{"s":"T","t":25,"k":135},{"s":"T","t":50,"k":160},{"s":"T","t":100,"k":180},{"s":"T","t":150,"k":190},{"s":"T","t":200,"k":195},{"s":"T","t":300,"k":203},{"s":"T","t":400,"k":207},{"s":"T","t":500,"k":210},{"s":"T","t":700,"k":212},{"s":"T","t":1000,"k":220},{"s":"T","t":1200,"k":222},{"s":"T","t":1400,"k":226},{"s":"T","t":1600,"k":230},{"s":"T","t":1800,"k":228},{"s":"T","t":2000,"k":230},
{"s":"I","t":0,"k":0},{"s":"I","t":5,"k":40},{"s":"I","t":10,"k":46},{"s":"I","t":25,"k":47},{"s":"I","t":50,"k":47},{"s":"I","t":100,"k":46},{"s":"I","t":150,"k":46},{"s":"I","t":200,"k":46},{"s":"I","t":300,"k":45},{"s":"I","t":400,"k":45},{"s":"I","t":500,"k":45},{"s":"I","t":700,"k":45},{"s":"I","t":1000,"k":45},{"s":"I","t":1200,"k":44},{"s":"I","t":1400,"k":44},{"s":"I","t":1600,"k":43},{"s":"I","t":1800,"k":43},{"s":"I","t":2000,"k":43},
{"s":"O","t":0,"k":0},{"s":"O","t":5,"k":40},{"s":"O","t":10,"k":65},{"s":"O","t":25,"k":95},{"s":"O","t":50,"k":120},{"s":"O","t":100,"k":137},{"s":"O","t":150,"k":145},{"s":"O","t":200,"k":152},{"s":"O","t":300,"k":160},{"s":"O","t":400,"k":165},{"s":"O","t":500,"k":168},{"s":"O","t":700,"k":170},{"s":"O","t":1000,"k":177},{"s":"O","t":1200,"k":180},{"s":"O","t":1400,"k":184},{"s":"O","t":1600,"k":187},{"s":"O","t":1800,"k":189},{"s":"O","t":2000,"k":190}
],
"mc": [
{"s":"T","t":0,"k":0},{"s":"T","t":5,"k":220},{"s":"T","t":10,"k":260},{"s":"T","t":25,"k":290},{"s":"T","t":50,"k":302},{"s":"T","t":100,"k":315},{"s":"T","t":150,"k":325},{"s":"T","t":200,"k":333},{"s":"T","t":300,"k":342},{"s":"T","t":400,"k":347},{"s":"T","t":500,"k":350},{"s":"T","t":700,"k":358},{"s":"T","t":1000,"k":372},{"s":"T","t":1200,"k":378},{"s":"T","t":1400,"k":382},{"s":"T","t":1600,"k":376},{"s":"T","t":1800,"k":378},{"s":"T","t":2000,"k":380},
{"s":"I","t":0,"k":0},{"s":"I","t":5,"k":140},{"s":"I","t":10,"k":148},{"s":"I","t":25,"k":152},{"s":"I","t":50,"k":154},{"s":"I","t":100,"k":156},{"s":"I","t":150,"k":157},{"s":"I","t":200,"k":158},{"s":"I","t":300,"k":159},{"s":"I","t":400,"k":160},{"s":"I","t":500,"k":160},{"s":"I","t":700,"k":160},{"s":"I","t":1000,"k":161},{"s":"I","t":1200,"k":161},{"s":"I","t":1400,"k":162},{"s":"I","t":1600,"k":161},{"s":"I","t":1800,"k":162},{"s":"I","t":2000,"k":162},
{"s":"O","t":0,"k":0},{"s":"O","t":5,"k":60},{"s":"O","t":10,"k":100},{"s":"O","t":25,"k":135},{"s":"O","t":50,"k":155},{"s":"O","t":100,"k":172},{"s":"O","t":150,"k":180},{"s":"O","t":200,"k":185},{"s":"O","t":300,"k":190},{"s":"O","t":400,"k":193},{"s":"O","t":500,"k":195},{"s":"O","t":700,"k":200},{"s":"O","t":1000,"k":206},{"s":"O","t":1200,"k":208},{"s":"O","t":1400,"k":209},{"s":"O","t":1600,"k":210},{"s":"O","t":1800,"k":209},{"s":"O","t":2000,"k":209}
]
},
"vconcat": [
{
 "width": 704, "height": 234,
 "title": {"text": "(a) Graphene", "offset": -44, "anchor": "middle", "frame": "group"},
 "encoding": {
  "x": {"field": "t", "type": "quantitative", "scale": {"domain": [0, 2000], "nice": false}, "axis": null},
  "color": {"field": "s", "type": "nominal", "scale": {"domain": ["T", "I", "O"], "range": ["#179c48", "#0c6cb2", "#e0434e"]},
   "legend": {"orient": "none", "legendX": 18, "legendY": 6, "padding": 0, "title": null, "labelFontSize": 22, "labelFont": "DejaVu Sans", "labelColor": "black", "symbolType": "stroke", "symbolSize": 2304, "symbolStrokeWidth": 4.5, "symbolOpacity": 1, "rowPadding": -15, "labelOffset": 12,
    "labelExpr": "datum.label == 'T' ? 'Total' : datum.label == 'I' ? 'In-plane' : 'Out-of-plane'"}}
 },
 "layer": [
  {"data": {"name": "ta"}, "mark": {"type": "line", "strokeWidth": 1.2, "opacity": 0.45, "clip": true},
   "encoding": {
    "y": {"field": "k", "type": "quantitative", "scale": {"domain": [0, 6000], "nice": false}, "axis": {"values": [0, 1500, 3000, 4500, 6000], "title": null}},
    "detail": {"field": "i", "type": "nominal"}}},
  {"data": {"name": "ma"}, "mark": {"type": "line", "strokeWidth": 4, "clip": true},
   "encoding": {
    "y": {"field": "k", "type": "quantitative", "scale": {"domain": [0, 6000], "nice": false}, "axis": {"orient": "right", "labels": false, "values": [0, 1500, 3000, 4500, 6000], "title": null}}}}
 ],
 "resolve": {"axis": {"y": "independent"}}
},
{
 "width": 704, "height": 234,
 "title": {"text": "(b) Biphenylene network", "offset": -30, "anchor": "middle", "frame": "group"},
 "encoding": {
  "x": {"field": "t", "type": "quantitative", "scale": {"domain": [0, 2000], "nice": false}, "axis": null},
  "color": {"field": "s", "type": "nominal", "scale": {"domain": ["T", "I", "O"], "range": ["#179c48", "#0c6cb2", "#e0434e"]}, "legend": null}
 },
 "layer": [
  {"data": {"name": "tb"}, "mark": {"type": "line", "strokeWidth": 1.2, "opacity": 0.45, "clip": true},
   "encoding": {
    "y": {"field": "k", "type": "quantitative", "scale": {"domain": [0, 500], "nice": false}, "axis": {"values": [0, 100, 200, 300, 400], "title": "k (W/(mK))", "titlePadding": 10}},
    "detail": {"field": "i", "type": "nominal"}}},
  {"data": {"name": "mb"}, "mark": {"type": "line", "strokeWidth": 4, "clip": true},
   "encoding": {
    "y": {"field": "k", "type": "quantitative", "scale": {"domain": [0, 500], "nice": false}, "axis": {"orient": "right", "labels": false, "values": [0, 100, 200, 300, 400], "title": null}}}}
 ],
 "resolve": {"axis": {"y": "independent"}}
},
{
 "width": 704, "height": 232,
 "title": {"text": "(c) Pentaheptite", "offset": -30, "anchor": "middle", "frame": "group"},
 "encoding": {
  "x": {"field": "t", "type": "quantitative", "scale": {"domain": [0, 2000], "nice": false}, "axis": {"values": [0, 500, 1000, 1500, 2000], "title": "Correlation Time (ps)", "titlePadding": 6}},
  "color": {"field": "s", "type": "nominal", "scale": {"domain": ["T", "I", "O"], "range": ["#179c48", "#0c6cb2", "#e0434e"]}, "legend": null}
 },
 "layer": [
  {"data": {"name": "tc"}, "mark": {"type": "line", "strokeWidth": 1.2, "opacity": 0.45, "clip": true},
   "encoding": {
    "y": {"field": "k", "type": "quantitative", "scale": {"domain": [0, 800], "nice": false}, "axis": {"values": [0, 150, 300, 450, 600], "title": null}},
    "detail": {"field": "i", "type": "nominal"}}},
  {"data": {"name": "mc"}, "mark": {"type": "line", "strokeWidth": 4, "clip": true},
   "encoding": {
    "y": {"field": "k", "type": "quantitative", "scale": {"domain": [0, 800], "nice": false}, "axis": {"orient": "right", "labels": false, "values": [0, 150, 300, 450, 600], "title": null}}}}
 ],
 "resolve": {"axis": {"y": "independent"}}
}
]
}
